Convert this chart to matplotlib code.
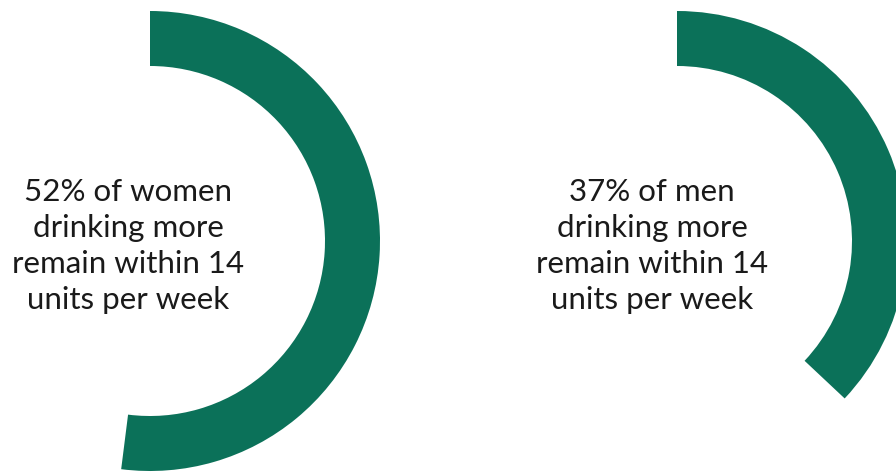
import matplotlib
matplotlib.use("Agg")
import matplotlib.pyplot as plt

plt.rc('font', family=['Lato', 'DejaVu Sans'])

# data
groups = ['women', 'men']
shares = [52, 37]
labels = ['52% of women\ndrinking more\nremain within 14\nunits per week',
          '37% of men\ndrinking more\nremain within 14\nunits per week']

GREEN = '#0B7159'
W, H = 896, 472
fig = plt.figure(figsize=(W / 100, H / 100), dpi=100)

# ring centres in pixels (x from left, y from top), radius in pixels
centres = [(150, 241), (677, 241)]
text_x = [128, 652]
R = 230

for (cx, cy), share, label, tx in zip(centres, shares, labels, text_x):
    left = (cx - R) / W
    bottom = (H - cy - R) / H
    ax = fig.add_axes([left, bottom, 2 * R / W, 2 * R / H])
    ax.pie([share, 100 - share], colors=[GREEN, 'none'], startangle=90,
           counterclock=False, radius=1,
           wedgeprops=dict(width=55 / R, linewidth=0))
    ax.set_xlim(-1, 1)
    ax.set_ylim(-1, 1)
    ax.set_aspect('auto')
    ax.axis('off')
    fig.text(tx / W, 1 - 246 / H, label, ha='center', va='center',
             fontsize=22.5, color='#1a1a1a', linespacing=1.35)

fig.savefig('out.png', dpi=100)
